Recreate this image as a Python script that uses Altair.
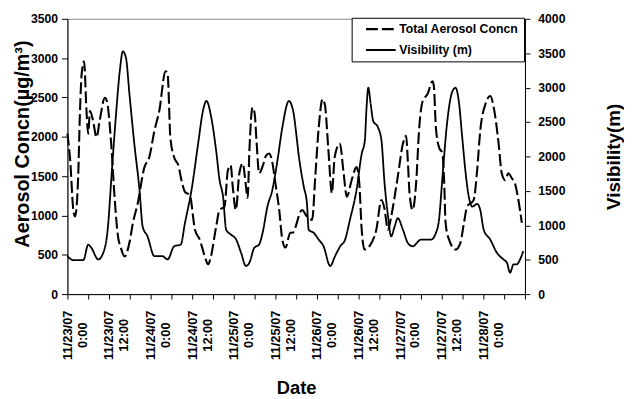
import altair as alt
import pandas as pd

# ---- data (hours after 11/23/07 0:00) ----
aer_hours = [0, 0.8, 1.7, 2.2, 3.1, 3.6, 4.1, 4.8, 5.5, 6.0, 6.5, 7.4, 8.4, 9.3, 10.8, 11.4,
             12.7, 13.6, 14.6, 15.4, 16.5, 17.9, 18.9, 20.3, 22.2, 23.6, 25.1, 26.5, 28.3, 28.9,
             29.7, 30.8, 32.0, 32.9, 33.9, 35.3, 36.8, 38.2, 39.6, 40.6, 41.4, 42.9, 43.9, 45.3,
             46.3, 47.1, 47.7, 48.6, 49.6, 50.6, 51.4, 52.0, 52.5, 53.4, 54.0, 54.6, 55.3, 56.5,
             57.3, 58.2, 59.0, 60.0, 61.1, 62.0, 62.9, 64.3, 64.9, 67.7, 69.1, 70.6, 71.5, 72.5,
             73.6, 74.3, 75.3, 76.3, 77.1, 78.6, 79.6, 80.6, 82.0, 83.4, 84.2, 84.9, 85.7, 87.1,
             89.1, 90.6, 91.4, 92.5, 93.4, 95.3, 96.8, 97.7, 98.2, 98.7, 99.6, 100.6, 101.5, 102.5,
             103.9, 105.3, 105.7, 106.3, 107.2, 108.2, 108.7, 109.1, 110.1, 112.0, 113.4, 114.4,
             115.3, 117.2, 118.2, 119.1, 120.6, 122.0, 123.0, 124.4, 125.3, 126.3, 127.2, 128.2,
             129.1, 130.1, 131.1]
aer_values = [2040, 1700, 1070, 986, 1490, 2291, 2795, 2959, 2329, 2040, 2329, 2203, 1993, 2203, 2497, 2450,
              1867, 1234, 730, 592, 478, 655, 906, 1158, 1611, 1737, 2077, 2329, 2833, 2800,
              1989, 1737, 1637, 1448, 1300, 1259, 818, 692, 482, 378, 478, 856, 1070, 1112,
              1574, 1637, 1363, 1070, 1536, 1662, 1410, 1221, 1826, 2371, 2300, 1914, 1536, 1650,
              1760, 1788, 1700, 1410, 1070, 692, 592, 780, 780, 1070, 986, 944, 1490, 2119,
              2480, 2400, 1826, 1284, 1741, 1914, 1574, 1238, 1448, 1615, 1410, 818, 566, 608,
              818, 1196, 1100, 818, 986, 1490, 1914, 2014, 1700, 1284, 1070, 1410, 2119, 2455,
              2543, 2707, 2650, 2119, 1867, 1788, 1410, 906, 692, 566, 655, 906,
              1112, 1196, 1574, 2077, 2417, 2518, 2371, 1914, 1536, 1448, 1536, 1473,
              1410, 1196, 906]

vis_hours = [0, 1.7, 4.6, 6.0, 6.9, 8.9, 10.8, 11.7, 12.7, 14.1, 15.1, 16.0, 16.9, 17.9, 19.3,
             20.8, 21.7, 23.1, 25.1, 27.4, 28.9, 30.8, 32.7, 33.9, 35.8, 37.7, 39.1, 40.1, 41.5,
             42.9, 43.9, 44.9, 45.8, 47.2, 48.7, 50.1, 51.5, 52.5, 53.9, 55.3, 56.3, 57.7, 59.1,
             60.6, 62.0, 63.9, 65.3, 65.8, 66.8, 68.2, 69.1, 69.6, 71.1, 72.5, 73.9, 75.8, 77.2,
             78.7, 80.1, 81.5, 83.4, 84.9, 85.8, 86.3, 86.8, 87.5, 88.2, 89.6, 90.6, 91.5, 92.5,
             93.4, 94.4, 95.3, 96.8, 98.2, 99.6, 102.0, 104.9, 106.3, 107.2, 108.2, 109.6, 111.1,
             112.0, 112.9, 113.9, 114.9, 115.8, 116.8, 118.2, 119.1, 120.1, 122.0, 123.9, 125.8,
             126.8, 127.7, 128.7, 129.6, 130.6, 131.5]
vis_values = [551, 494, 494, 720, 672, 504, 672, 983, 1703, 2662, 3238, 3526, 3430, 2902, 2183,
              1511, 983, 839, 551, 551, 504, 695, 720, 1031, 1511, 2183, 2662, 2806, 2566,
              2086, 1655, 1415, 935, 863, 791, 600, 408, 456, 672, 720, 888, 1271, 1511,
              1943, 2422, 2806, 2614, 2422, 1990, 1558, 1319, 935, 888, 791, 695, 408, 551,
              695, 791, 1079, 1511, 2039, 2230, 2710, 2998, 2758, 2518, 2422, 2230, 1607, 1127,
              839, 983, 1103, 935, 744, 695, 791, 791, 888, 1079, 1703, 2518, 2950,
              2998, 2806, 2278, 1751, 1415, 1271, 1310, 1223, 935, 791, 600, 504,
              456, 312, 432, 432, 504, 624]

series_names = ["Total Aerosol Concn", "Visibility (m)"]
x_ticks = list(range(0, 133, 6))
left_ticks = list(range(0, 3501, 500))
right_ticks = list(range(0, 4001, 500))

aer_df = pd.DataFrame({"h": aer_hours, "v": aer_values, "series": series_names[0]})
vis_df = pd.DataFrame({"h": vis_hours, "v": vis_values, "series": series_names[1]})

FONT = "Liberation Sans"

label_expr = ("datum.value % 12 != 0 || datum.value > 120 ? '' : "
              "['11/' + (23 + floor(datum.value / 24)) + '/07', "
              "datum.value % 24 == 0 ? '0:00' : '12:00']")

x_enc = alt.X(
    "h:Q",
    scale=alt.Scale(domain=[0, 132], nice=False, zero=False),
    axis=alt.Axis(
        values=x_ticks, title="Date", labelExpr=label_expr,
        labelAngle=270, labelAlign="center", labelBaseline="middle",
        labelPadding=36, labelLineHeight=15, labelFontSize=13,
        labelOverlap=False, labelFlush=False, labelBound=False,
        tickSize=5, titleFontSize=18.5, titleX=231, titleY=100,
        titleAnchor="middle", titleAlign="center", titleBaseline="alphabetic",
    ),
)

dash = alt.StrokeDash(
    "series:N",
    scale=alt.Scale(domain=series_names, range=[[12, 4], [1, 0]]),
    legend=alt.Legend(
        title=None, orient="none", legendX=287, legendY=-1,
        symbolType="M0.6,0L6.6,0", symbolSize=100, symbolStrokeWidth=2.2,
        symbolStrokeColor="black", symbolFillColor="transparent",
        labelFont=FONT, labelFontWeight="bold", labelFontSize=12.4, labelColor="black",
        labelExpr="datum.label + '\u00a0\u00a0\u00a0'",
        labelOffset=30, rowPadding=8, padding=5,
        fillColor="white", strokeColor="black",
    ),
)

aer = alt.Chart(aer_df).mark_line(color="black", strokeWidth=2.1, interpolate="monotone").encode(
    x=x_enc,
    y=alt.Y(
        "v:Q",
        scale=alt.Scale(domain=[0, 3500], nice=False),
        axis=alt.Axis(
            orient="left", values=left_ticks, format="d", title="Aerosol Concn(µg/m³)",
            tickSize=6, labelPadding=4, labelFontSize=12.3,
            titleFontSize=20, titleAngle=270, titleX=-45, titleY=126,
            titleAlign="center", titleBaseline="middle",
        ),
    ),
    strokeDash=dash,
)

vis = alt.Chart(vis_df).mark_line(color="black", strokeWidth=1.8, interpolate="monotone").encode(
    x=x_enc,
    y=alt.Y(
        "v:Q",
        scale=alt.Scale(domain=[0, 4000], nice=False),
        axis=alt.Axis(
            orient="right", values=right_ticks, format="d", title="Visibility(m)",
            tickSize=5, labelPadding=8, labelFontSize=12.3,
            titleFontSize=19, titleAngle=270, titleX=89, titleY=139,
            titleAlign="center", titleBaseline="middle",
        ),
    ),
    strokeDash=dash,
)

chart = (
    alt.layer(aer, vis)
    .resolve_scale(y="independent")
    .properties(
        width=462, height=278,
        autosize=alt.AutoSizeParams(type="none"),
        padding={"left": 60, "top": 9, "right": 100, "bottom": 102},
        background="white",
    )
    .configure_view(stroke="#888888", strokeWidth=1)
    .configure_axis(
        grid=False, domainColor="black", domainWidth=1, tickColor="black",
        labelFont=FONT, labelFontWeight="bold", labelColor="black",
        titleFont=FONT, titleFontWeight="bold", titleColor="black",
    )
)

chart.save("out.html", embed_options={"renderer": "svg", "actions": False})
